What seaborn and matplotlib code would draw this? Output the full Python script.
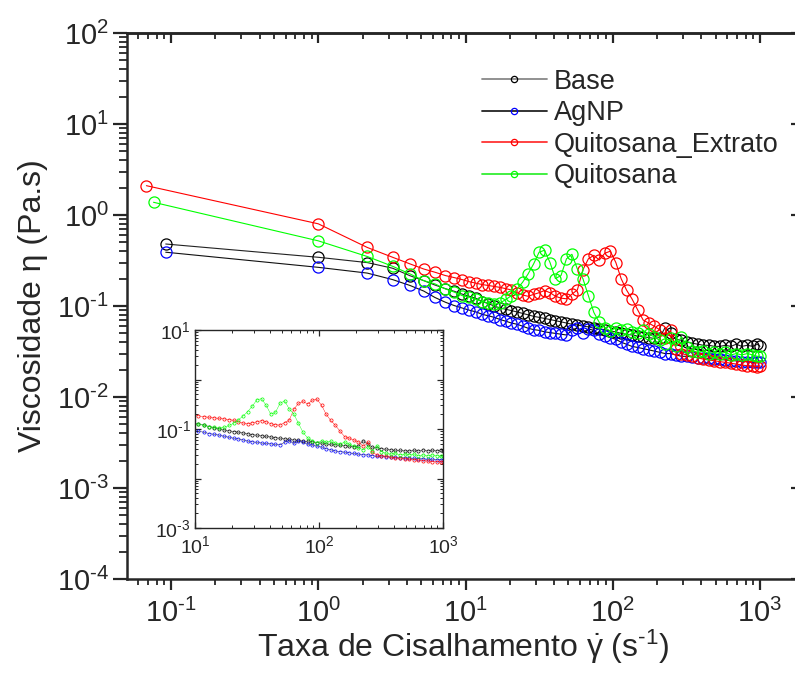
import numpy as np
import pandas as pd
import seaborn as sns
import matplotlib
matplotlib.use('Agg')
import matplotlib.pyplot as plt
from matplotlib.lines import Line2D
from matplotlib.ticker import LogLocator, NullFormatter, FuncFormatter

sns.set_style('ticks')
plt.rcParams['font.family'] = ['Liberation Sans', 'DejaVu Sans']
plt.rcParams['mathtext.fontset'] = 'custom'
plt.rcParams['mathtext.rm'] = 'Liberation Sans'
plt.rcParams['mathtext.it'] = 'Liberation Sans:italic'
plt.rcParams['mathtext.bf'] = 'Liberation Sans:bold'
plt.rcParams['mathtext.default'] = 'regular'

# shear rate (s^-1) shared by all samples after the first point
RATE = [1.0, 2.15, 3.2, 4.2, 5.2, 6.2, 7.3, 8.4, 9.5,
        10.6, 11.8, 13.0, 14.3, 15.7, 17.2, 18.8, 20.5, 22.4, 24.4, 26.6, 29.0, 31.6, 34.4,
        37.5, 40.8, 44.5, 48.5, 52.8, 57.5, 62.7, 68.3, 74.4, 81.0, 88.3, 96.2,
        105, 114, 124, 135, 148, 161, 175, 191, 208, 227, 247, 269, 293, 319, 348, 379,
        413, 450, 490, 534, 582, 634, 690, 752, 820, 893, 960, 1000]

BASE_X0 = 0.092
BASE_ETA = [0.48,
            0.343, 0.30, 0.26, 0.215, 0.19, 0.17, 0.155, 0.145, 0.135,
            0.128, 0.121, 0.112, 0.106, 0.100, 0.095, 0.092, 0.089, 0.086, 0.083,
            0.080, 0.077, 0.075, 0.073, 0.071, 0.069, 0.067, 0.065, 0.063, 0.062,
            0.060, 0.059, 0.057, 0.056, 0.055, 0.053,
            0.052, 0.050, 0.049, 0.048, 0.047, 0.046, 0.045, 0.044, 0.045, 0.058,
            0.050, 0.043, 0.042, 0.040, 0.039, 0.038, 0.037, 0.037, 0.036, 0.036,
            0.037, 0.036, 0.038, 0.036, 0.037, 0.036, 0.038, 0.036]

AGNP_X0 = 0.092
AGNP_ETA = [0.39,
            0.266, 0.23, 0.195, 0.168, 0.146, 0.124, 0.110, 0.101, 0.095,
            0.090, 0.086, 0.081, 0.078, 0.075, 0.071, 0.068, 0.065, 0.063, 0.060,
            0.057, 0.055, 0.054, 0.052, 0.051, 0.050, 0.049, 0.048, 0.054, 0.058,
            0.051, 0.056, 0.054, 0.049, 0.047, 0.045,
            0.043, 0.040, 0.038, 0.036, 0.035, 0.034, 0.033, 0.032, 0.031, 0.030,
            0.030, 0.029, 0.028, 0.028, 0.0275, 0.027, 0.027, 0.0265, 0.026, 0.026,
            0.0255, 0.025, 0.025, 0.0245, 0.0245, 0.024, 0.024, 0.024]

EXTRATO_X0 = 0.068
EXTRATO_ETA = [2.1,
               0.80, 0.44, 0.343, 0.29, 0.255, 0.235, 0.216, 0.205, 0.195,
               0.185, 0.178, 0.172, 0.168, 0.164, 0.160, 0.155, 0.150, 0.140, 0.132,
               0.128, 0.134, 0.140, 0.148, 0.140, 0.128, 0.122, 0.120, 0.135, 0.150,
               0.25, 0.33, 0.36, 0.32, 0.38, 0.40,
               0.30, 0.20, 0.15, 0.12, 0.090, 0.070, 0.065, 0.060, 0.055, 0.045,
               0.054, 0.034, 0.030, 0.029, 0.028, 0.027, 0.026, 0.0255, 0.025, 0.0245,
               0.024, 0.0235, 0.023, 0.0225, 0.022, 0.022, 0.0215, 0.022]

QUITOSANA_X0 = 0.076
QUITOSANA_ETA = [1.38,
                 0.52, 0.35, 0.273, 0.225, 0.19, 0.175, 0.154, 0.142, 0.130,
                 0.125, 0.118, 0.112, 0.108, 0.104, 0.108, 0.118, 0.130, 0.154, 0.182,
                 0.225, 0.29, 0.39, 0.41, 0.30, 0.20, 0.216, 0.33, 0.37, 0.255,
                 0.20, 0.13, 0.085, 0.066, 0.058, 0.053,
                 0.058, 0.054, 0.056, 0.052, 0.050, 0.054, 0.049, 0.046, 0.042, 0.038,
                 0.044, 0.036, 0.046, 0.035, 0.032, 0.031, 0.032, 0.030, 0.031, 0.030,
                 0.031, 0.029, 0.030, 0.029, 0.030, 0.029, 0.028, 0.028]

NAMES = ['Base', 'AgNP', 'Quitosana_Extrato', 'Quitosana']
MARKER_COLORS = ['#000000', '#0000FF', '#FF0000', '#00FF00']
LINE_COLORS = ['#222222', '#111111', '#FF0000', '#00FF00']
LEGEND_LINE_COLORS = ['#888888', '#222222', '#FF3333', '#33EE33']

frames = []
for name, x0, eta in zip(NAMES,
                         [BASE_X0, AGNP_X0, EXTRATO_X0, QUITOSANA_X0],
                         [BASE_ETA, AGNP_ETA, EXTRATO_ETA, QUITOSANA_ETA]):
    frames.append(pd.DataFrame({'rate': [x0] + RATE, 'eta': eta, 'amostra': name}))
df = pd.concat(frames, ignore_index=True)


def pow10(v, pos=None):
    # Origin-style labels: short hyphen in the exponent
    e = int(round(np.log10(v)))
    if e < 0:
        return r'$10^{\text{-}%d}$' % (-e)
    return r'$10^{%d}$' % e


fig = plt.figure(figsize=(7.95, 6.77), dpi=100)
ax = fig.add_axes([127 / 795, 98 / 677, 672 / 795, 546 / 677])


def draw(axis, ms, mew, lw):
    for name, mc, lc in zip(NAMES, MARKER_COLORS, LINE_COLORS):
        sns.lineplot(data=df[df['amostra'] == name], x='rate', y='eta', ax=axis,
                     color=lc, linewidth=lw, marker='o', markersize=ms,
                     markerfacecolor='none', markeredgecolor=mc,
                     markeredgewidth=mew, estimator=None, sort=False, legend=False)


draw(ax, 8, 0.9, 0.8)
ax.set_xscale('log')
ax.set_yscale('log')
ax.set_xlim(0.0502, 1841)
ax.set_ylim(1e-4, 1e2)
ax.xaxis.set_major_locator(LogLocator(base=10, numticks=20))
ax.yaxis.set_major_locator(LogLocator(base=10, numticks=20))
ax.xaxis.set_minor_locator(LogLocator(base=10, subs=np.arange(2, 10), numticks=200))
ax.yaxis.set_minor_locator(LogLocator(base=10, subs=np.arange(2, 10), numticks=200))
ax.xaxis.set_major_formatter(FuncFormatter(pow10))
ax.yaxis.set_major_formatter(FuncFormatter(pow10))
ax.xaxis.set_minor_formatter(NullFormatter())
ax.yaxis.set_minor_formatter(NullFormatter())
for sp in ax.spines.values():
    sp.set_linewidth(1.8)
ax.tick_params(axis='y', which='major', direction='out', length=10, width=1.6,
               labelsize=21, pad=3)
ax.tick_params(axis='y', which='minor', direction='out', length=6, width=1.3)
ax.tick_params(axis='x', which='major', direction='out', length=8, width=1.6,
               labelsize=21, pad=6)
ax.tick_params(axis='x', which='minor', direction='out', length=4.5, width=1.3)

top = ax.secondary_xaxis('top')
top.set_xscale('log')
top.xaxis.set_major_locator(LogLocator(base=10, numticks=20))
top.xaxis.set_minor_locator(LogLocator(base=10, subs=np.arange(2, 10), numticks=200))
top.tick_params(which='major', direction='in', length=7, width=1.6, labeltop=False)
top.tick_params(which='minor', direction='in', length=4, width=1.3)
top.spines['top'].set_linewidth(1.8)
right = ax.secondary_yaxis('right')
right.set_yscale('log')
right.yaxis.set_major_locator(LogLocator(base=10, numticks=20))
right.yaxis.set_minor_locator(LogLocator(base=10, subs=np.arange(2, 10), numticks=200))
right.tick_params(which='major', direction='in', length=6, width=1.6, labelright=False)
right.tick_params(which='minor', direction='in', length=3, width=1.3)

ax.set_xlabel(r'Taxa de Cisalhamento $\dot{\gamma}$ (s$^{\text{-}1}$)', fontsize=23,
              labelpad=0)
ax.set_ylabel('Viscosidade η (Pa.s)', fontsize=23, labelpad=6)

handles = [Line2D([], [], color=lc, lw=1.3, marker='o', markersize=4.5,
                  markerfacecolor='none', markeredgecolor=mc, markeredgewidth=0.9)
           for mc, lc in zip(MARKER_COLORS, LEGEND_LINE_COLORS)]
ax.legend(handles, NAMES, loc='upper left', bbox_to_anchor=(463 / 795, 1 - 50 / 677),
          bbox_transform=fig.transFigure, frameon=False, fontsize=19.5,
          handlelength=2.4, handletextpad=0.25, labelspacing=0.2, borderpad=0.2)

# inset: zoom on 10-1000 s^-1
ax_in = fig.add_axes([195 / 795, 149 / 677, 248 / 795, 198 / 677])
draw(ax_in, 2.3, 0.5, 0.3)
ax_in.set_xscale('log')
ax_in.set_yscale('log')
ax_in.set_xlim(10, 1000)
ax_in.set_ylim(1e-3, 10)
ax_in.set_xticks([10, 100, 1000], labels=[pow10(10), pow10(100), pow10(1000)])
ax_in.set_yticks([1e-3, 1e-2, 1e-1, 1, 10],
                 labels=[pow10(1e-3), '', pow10(1e-1), '', pow10(10)])
ax_in.xaxis.set_minor_locator(LogLocator(base=10, subs=np.arange(2, 10), numticks=200))
ax_in.yaxis.set_minor_locator(LogLocator(base=10, subs=np.arange(2, 10), numticks=200))
ax_in.xaxis.set_minor_formatter(NullFormatter())
ax_in.yaxis.set_minor_formatter(NullFormatter())
ax_in.set_xlabel('')
ax_in.set_ylabel('')
for sp in ax_in.spines.values():
    sp.set_linewidth(1.0)
ax_in.tick_params(which='major', direction='in', top=True, right=True, length=4,
                  width=0.9, labelsize=14)
ax_in.tick_params(axis='x', which='major', pad=5)
ax_in.tick_params(axis='y', which='major', pad=3)
ax_in.tick_params(which='minor', direction='in', top=True, right=True, length=2,
                  width=0.7)

fig.savefig('out.png', dpi=100)
